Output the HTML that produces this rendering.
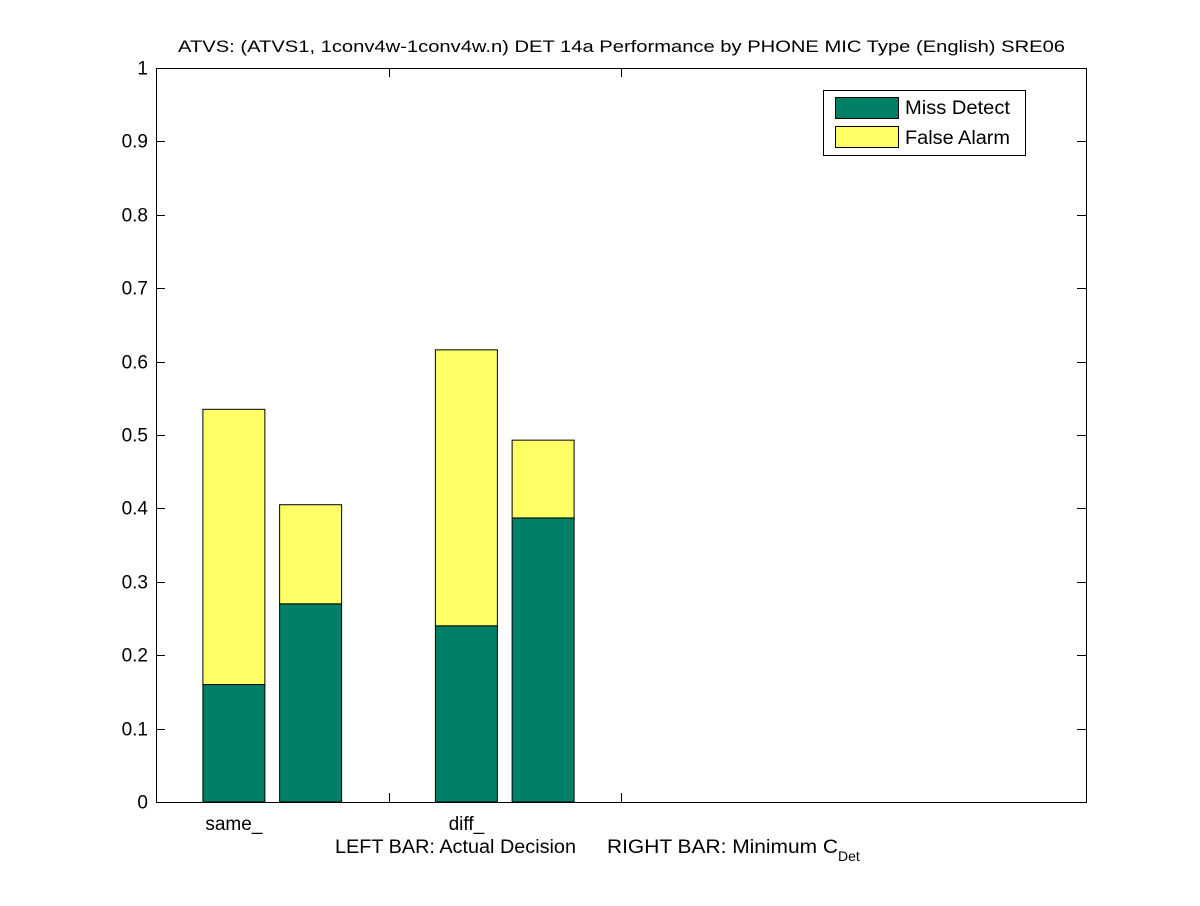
<!DOCTYPE html>
<html><head><meta charset="utf-8"><style>
body{margin:0;background:#fff;}
svg text{font-family:"Liberation Sans",sans-serif;fill:#000;}
</style></head><body>
<svg id="chart" width="1200" height="901" viewBox="0 0 1200 901">
<rect width="1200" height="901" fill="#fff"/>
<text x="178" y="52" font-size="17" textLength="887" lengthAdjust="spacingAndGlyphs">ATVS: (ATVS1, 1conv4w-1conv4w.n) DET 14a Performance by PHONE MIC Type (English) SRE06</text>
<g id="bars"></g>
<g id="axes"></g>
<text x="335" y="853" font-size="19" textLength="241" lengthAdjust="spacingAndGlyphs">LEFT BAR: Actual Decision</text>
<text x="607" y="853" font-size="19"><tspan textLength="231" lengthAdjust="spacingAndGlyphs">RIGHT BAR: Minimum C</tspan><tspan font-size="14" dy="8">Det</tspan></text>
<g>
<rect x="823.5" y="90.5" width="202" height="65" fill="#fff" stroke="#000"/>
<rect x="835.5" y="97.5" width="63" height="21" fill="#008066" stroke="#000"/>
<text x="905" y="114" font-size="19" textLength="105" lengthAdjust="spacingAndGlyphs">Miss Detect</text>
<rect x="835.5" y="126.5" width="63" height="21" fill="#ffff66" stroke="#000"/>
<text x="905" y="144" font-size="19" textLength="105" lengthAdjust="spacingAndGlyphs">False Alarm</text>
</g>
</svg>
<script>
const categories = ["same_", "diff_"];
const missActual = [0.16, 0.24];
const faActual = [0.375, 0.376];
const missMin = [0.27, 0.387];
const faMin = [0.135, 0.106];
const yTicks = [0,0.1,0.2,0.3,0.4,0.5,0.6,0.7,0.8,0.9,1];
const yTickLabels = ["0","0.1","0.2","0.3","0.4","0.5","0.6","0.7","0.8","0.9","1"];

const L=156,R=1086,T=68,B=802;
const y = v => B - v*(B-T);
const xs = u => L + (u-0.5)/4*(R-L);
const NS="http://www.w3.org/2000/svg";
const bars=document.getElementById('bars'), axes=document.getElementById('axes');
function mk(tag,attrs,parent){const e=document.createElementNS(NS,tag);for(const k in attrs)e.setAttribute(k,attrs[k]);parent.appendChild(e);return e;}
const bw = 62/(xs(1)-xs(0));
categories.forEach((c,i)=>{
  const centers=[i+1-0.165, i+1+0.165];
  const sets=[[missActual[i],faActual[i],'actual'],[missMin[i],faMin[i],'min']];
  sets.forEach((s,j)=>{
    const x0=xs(centers[j]-bw/2), x1=xs(centers[j]+bw/2);
    const m=mk('rect',{x:x0,y:y(s[0]),width:x1-x0,height:y(0)-y(s[0]),fill:'#008066',stroke:'#000','stroke-width':1},bars);
    
    
    const f=mk('rect',{x:x0,y:y(s[0]+s[1]),width:x1-x0,height:y(s[0])-y(s[0]+s[1]),fill:'#ffff66',stroke:'#000','stroke-width':1},bars);
    
    
  });
  const t=mk('text',{x:xs(centers[0]),y:830,'font-size':19,'text-anchor':'middle'},axes);
  t.textContent=c;
  
  
});
const fr=mk('rect',{x:L+0.5,y:T+0.5,width:R-L,height:B-T,fill:'none',stroke:'#000'},axes);


yTicks.forEach((v,k)=>{
  const yy=Math.round(y(v))+0.5;
  const a=mk('line',{x1:L,x2:L+9,y1:yy,y2:yy,stroke:'#000'},axes);
  
  
  const b=mk('line',{x1:R-9,x2:R,y1:yy,y2:yy,stroke:'#000'},axes);
  
  
  const t=mk('text',{x:L-8,y:yy+6,'font-size':19,'text-anchor':'end'},axes);
  t.textContent=yTickLabels[k];
  
  
});
[1.5,2.5].forEach(u=>{
  const xx=Math.round(xs(u))+0.5;
  const a=mk('line',{x1:xx,x2:xx,y1:B,y2:B-9,stroke:'#000'},axes);
  
  
  const b=mk('line',{x1:xx,x2:xx,y1:T,y2:T+9,stroke:'#000'},axes);
  
  
});
</script>
</body></html>
